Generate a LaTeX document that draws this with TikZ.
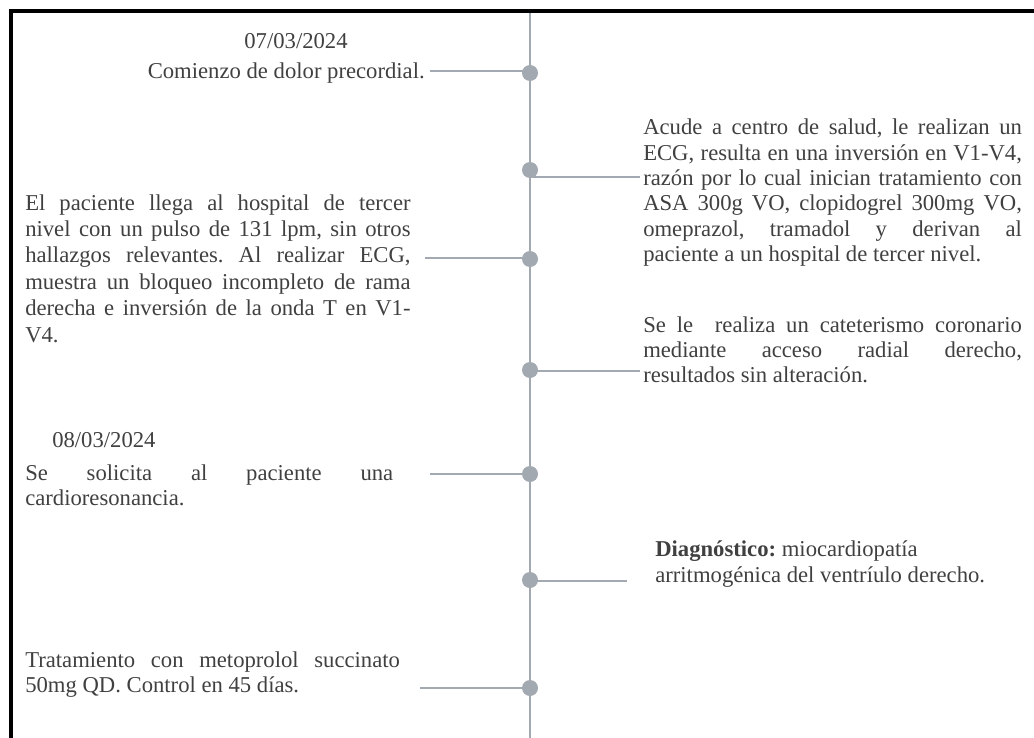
\documentclass[tikz,border=0pt]{standalone}
\usepackage{fontspec}
\setmainfont{Liberation Serif}
\frenchspacing
\usetikzlibrary{calc}
\definecolor{rail}{HTML}{A3A9B1}
\definecolor{ink}{HTML}{404040}

\tikzset{
  hito/.style={circle,fill=rail,inner sep=0pt,minimum size=12pt},
  enlace/.style={rail,line width=2.2pt},
  texto/.style={inner sep=0pt,text=ink,font=\fontsize{17}{19}\selectfont},
  bloque/.style={texto,text width=#1,align=justify},
}

\begin{document}
\begin{tikzpicture}[x=0.75pt,y=-0.75pt]
  \useasboundingbox (0,0) rectangle (1034,738);
  % Frame (only top and left edges show)
  \draw[line width=3pt] (1034,11) -- (11,11) -- (11,738);

  % Timeline
  \draw[enlace] (530,13) -- (530,738);
  \foreach \n/\y in {1/73,2/170,3/259,4/370,5/474,6/580,7/688}
    \node[hito] (h\n) at (530,\y) {};

  % 07/03/2024
  \node[texto,anchor=base] (f1) at (296,49) {07/03/2024};
  \node[texto,anchor=base east] (e1) at (425,79) {Comienzo de dolor precordial.};
  \coordinate (l1) at (430,71);
  \draw[enlace] (l1) -- (l1 -| h1);

  % Centro de salud
  \node[bloque=284pt,anchor=base west] (e2) at (643,135)
    {Acude a centro de salud, le realizan un\linebreak
     ECG, resulta en una inversión en V1-V4,\linebreak
     razón por lo cual inician tratamiento con\linebreak
     ASA 300g VO, clopidogrel 300mg VO,\linebreak
     omeprazol, tramadol y derivan al\linebreak
     paciente a un hospital de tercer nivel.};
  \coordinate (l2) at (640,177);
  \draw[enlace] (h2 |- l2) -- (l2);

  % Hospital de tercer nivel
  \node[bloque=289pt,anchor=base west,font=\fontsize{17}{19.8}\selectfont] (e3) at (25,210)
    {El paciente llega al hospital de tercer\linebreak
     nivel con un pulso de 131 lpm, sin otros\linebreak
     hallazgos relevantes. Al realizar ECG,\linebreak
     muestra un bloqueo incompleto de rama\linebreak
     derecha e inversión de la onda T en V1-\linebreak
     V4.};
  \coordinate (l3) at (425,258);
  \draw[enlace] (l3) -- (l3 -| h3);

  % Cateterismo
  \node[bloque=284pt,anchor=base west] (e4) at (643,332)
    {Se le\ \ realiza un cateterismo coronario\linebreak
     mediante acceso radial derecho,\linebreak
     resultados sin alteración.};
  \coordinate (l4) at (640,371);
  \draw[enlace] (h4 |- l4) -- (l4);

  % 08/03/2024
  \node[texto,anchor=base west] (f2) at (52,447) {08/03/2024};
  \node[bloque=276pt,anchor=base west] (e5) at (25,480)
    {Se solicita al paciente una\linebreak
     cardioresonancia.};
  \coordinate (l5) at (430,474);
  \draw[enlace] (l5) -- (l5 -| h5);

  % Diagnostico
  \node[texto,align=left,anchor=base west] (e6) at (655,582)
    {\textbf{Diagnóstico:} miocardiopatía\\
     arritmogénica del ventríulo derecho.};
  \coordinate (l6) at (627,581);
  \draw[enlace] (h6 |- l6) -- (l6);

  % Tratamiento
  \node[bloque=281pt,anchor=base west] (e7) at (25,667)
    {Tratamiento con metoprolol succinato\linebreak
     50mg QD. Control en 45 días.};
  \coordinate (l7) at (420,688);
  \draw[enlace] (l7) -- (l7 -| h7);
\end{tikzpicture}
\end{document}
